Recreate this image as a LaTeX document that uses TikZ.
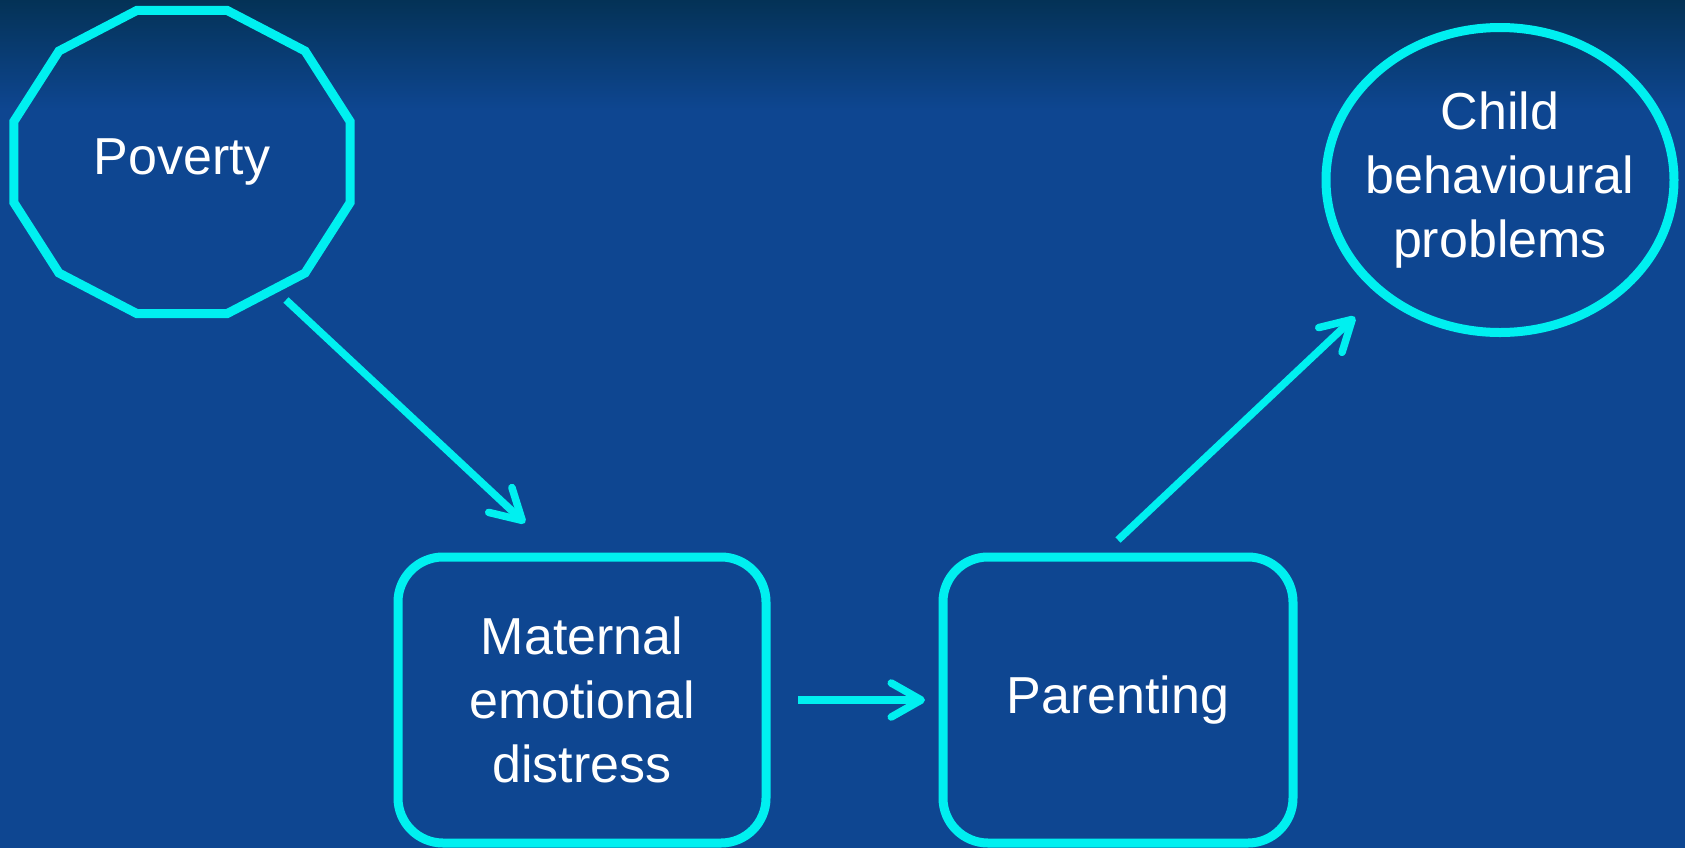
\documentclass[tikz,border=0pt]{standalone}
\usepackage{fontspec}
\setmainfont{Liberation Sans}
\usetikzlibrary{arrows.meta,shapes.geometric}

\definecolor{bgblue}{RGB}{14,70,145}
\definecolor{topblue}{RGB}{4,50,86}
\definecolor{linecyan}{RGB}{0,240,240}

\begin{document}
\begin{tikzpicture}[
    factor/.style={draw=linecyan, line width=0.09cm, outer sep=0pt, text=white, align=center,
        font=\fontsize{14.8pt}{18.1pt}\selectfont},
    box/.style={factor, shape=rectangle, rounded corners=0.45cm, minimum height=2.86cm},
    conn/.style={draw=linecyan, line width=0.075cm, -{Straight Barb[length=0.3cm,width=0.34cm,round]}}
  ]
    \useasboundingbox (0,0) rectangle (16.85,-8.48);
    \fill[bgblue] (0,0) rectangle (16.85,-8.48);
    \shade[top color=topblue, bottom color=bgblue] (0,0) rectangle (16.85,-1.1);

    \node[factor, draw=none] (poverty) at (1.82,-1.62) {Poverty};
    \draw[draw=linecyan, line width=0.09cm, line join=miter] ([shift={(15:1.74 and 1.57)}]poverty.center)
        \foreach \a in {45,75,...,345} { -- ([shift={(\a:1.74 and 1.57)}]poverty.center) } -- cycle;

    \node[box, minimum width=3.68cm] (maternal) at (5.82,-7.00) {Maternal\\emotional\\distress};
    \node[box, minimum width=3.50cm] (parenting) at (11.18,-7.00) {Parenting};
    \node[factor, shape=ellipse, minimum width=3.48cm, minimum height=3.05cm] (child) at (15.00,-1.80) {};
    \node[factor, draw=none] (childtext) at (child.center) {Child\\behavioural\\problems};

    \draw[conn] ([shift={(1.04,-1.38)}]poverty.center) -- ([shift={(-0.57,0.34)}]maternal.north);
    \draw[conn, shorten <=0.32cm, shorten >=0.18cm] (maternal.east) -- (parenting.west);
    \draw[conn] ([shift={(0,0.17)}]parenting.north) -- ([shift={(-0.22,-0.29)}]child.south west);

\end{tikzpicture}
\end{document}
